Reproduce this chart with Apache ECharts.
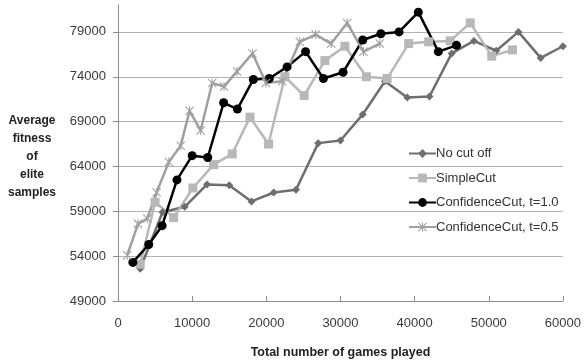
<!DOCTYPE html>
<html>
<head>
<meta charset="utf-8">
<script src="https://cdn.jsdelivr.net/npm/echarts@6/dist/echarts.min.js"></script>
<style>html,body{margin:0;padding:0;background:#fff}#c{width:584px;height:364px}</style>
</head>
<body>
<div id="c"></div>
<script>
// ---- data ----
var seriesNames = ["No cut off", "SimpleCut", "ConfidenceCut, t=1.0", "ConfidenceCut, t=0.5"];

var noCutX = [3000, 6000, 9000, 12000, 15000, 18000, 21000, 24000, 27000, 30000, 33000, 36000, 39000, 42000, 45000, 48000, 51000, 54000, 57000, 60000];
var noCutY = [52600, 58900, 59500, 62000, 61900, 60100, 61100, 61400, 66600, 66900, 69800, 73500, 71700, 71800, 76600, 78000, 76900, 79000, 76100, 77400];

var simpleX = [3000, 5000, 7500, 10100, 12900, 15400, 17800, 20300, 22500, 25100, 27900, 30600, 33500, 36300, 39200, 41900, 44800, 47500, 50400, 53200];
var simpleY = [53100, 60000, 58300, 61600, 64200, 65400, 69500, 66500, 74000, 71900, 75800, 77400, 74000, 73800, 77700, 77900, 78000, 80000, 76300, 77000];

var conf10X = [2000, 4150, 5950, 7950, 10000, 12100, 14250, 16100, 18250, 20400, 22800, 25300, 27700, 30350, 33000, 35450, 37900, 40500, 43200, 45650];
var conf10Y = [53300, 55300, 57400, 62500, 65200, 65000, 71100, 70400, 73700, 73800, 75100, 76800, 73800, 74500, 78100, 78800, 79000, 81200, 76800, 77500];

var conf05X = [1250, 2700, 3950, 5200, 6850, 8450, 9650, 11150, 12700, 14300, 16050, 18150, 19950, 22150, 24500, 26650, 28750, 30900, 33100, 35300];
var conf05Y = [54100, 57600, 58200, 61100, 64500, 66300, 70200, 68000, 73300, 72900, 74600, 76600, 73300, 73500, 77900, 78700, 77700, 80000, 76800, 77700];

var xTicks = [0, 10000, 20000, 30000, 40000, 50000, 60000];
var yTicks = [49000, 54000, 59000, 64000, 69000, 74000, 79000];

function pairs(xs, ys) { return xs.map(function (x, i) { return [x, ys[i]]; }); }

var asterisk = 'path://M4.4 0L5.6 0L5.6 10L4.4 10Z M0 0.85L0.85 0L10 9.15L9.15 10Z M9.15 0L10 0.85L0.85 10L0 9.15Z';

var FONT = '"Liberation Sans", Arial, sans-serif';
var chart = echarts.init(document.getElementById('c'), null, { renderer: 'canvas' });

var option = {
  animation: false,
  backgroundColor: '#ffffff',
  textStyle: { fontFamily: FONT },
  grid: { left: 118, right: 19, top: 5, bottom: 61, containLabel: false },
  legend: {
    orient: 'vertical',
    left: 403,
    top: 142,
    itemWidth: 27,
    itemHeight: 11,
    itemGap: 11.5,
    textStyle: { fontFamily: FONT, fontSize: 13, color: '#333', lineHeight: 13, padding: [0, 0, 0, -5] },
    data: seriesNames
  },
  xAxis: {
    type: 'value',
    min: xTicks[0],
    max: xTicks[xTicks.length - 1],
    interval: 10000,
    name: 'Total number of games played',
    nameLocation: 'middle',
    nameGap: 45,
    nameTextStyle: { fontFamily: FONT, fontSize: 12.5, fontWeight: 'bold', color: '#222' },
    axisLine: { show: true, lineStyle: { color: '#8c8c8c', width: 1 } },
    axisTick: { show: true, inside: true, length: 5, lineStyle: { color: '#8c8c8c' } },
    axisLabel: { fontFamily: FONT, fontSize: 13, color: '#3a3a3a', margin: 16, formatter: function (v) { return String(v); } },
    splitLine: { show: false }
  },
  yAxis: {
    type: 'value',
    min: yTicks[0],
    max: 82000,
    interval: 5000,
    axisLine: { show: true, lineStyle: { color: '#8c8c8c', width: 1 } },
    axisTick: { show: true, inside: false, length: 5, lineStyle: { color: '#8c8c8c' } },
    axisLabel: {
      fontFamily: FONT, fontSize: 13, color: '#3a3a3a', margin: 12, showMaxLabel: false,
      formatter: function (v) { return yTicks.indexOf(v) >= 0 ? String(v) : ''; }
    },
    splitLine: { show: true, showMinLine: false, showMaxLine: false, lineStyle: { color: '#b3b3b3', width: 1 } }
  },
  graphic: [{
    type: 'text',
    left: 8, top: 112,
    style: {
      text: 'Average\nfitness\nof\nelite\nsamples',
      font: 'bold 12px ' + FONT,
      fill: '#222',
      textAlign: 'center',
      lineHeight: 18,
      x: 30
    }
  }],
  series: [
    {
      name: seriesNames[0], type: 'line', data: pairs(noCutX, noCutY),
      symbol: 'diamond', symbolSize: 8,
      itemStyle: { color: '#6e6e6e' },
      lineStyle: { color: '#6e6e6e', width: 2.5 }
    },
    {
      name: seriesNames[1], type: 'line', data: pairs(simpleX, simpleY),
      symbol: 'rect', symbolSize: 9,
      itemStyle: { color: '#b8b8b8' },
      lineStyle: { color: '#b8b8b8', width: 2.5 }
    },
    {
      name: seriesNames[2], type: 'line', data: pairs(conf10X, conf10Y),
      symbol: 'circle', symbolSize: 9,
      itemStyle: { color: '#000000' },
      lineStyle: { color: '#000000', width: 2.5 }
    },
    {
      name: seriesNames[3], type: 'line', data: pairs(conf05X, conf05Y),
      symbol: asterisk, symbolSize: 9,
      itemStyle: { color: '#a0a0a0' },
      lineStyle: { color: '#a0a0a0', width: 2.5 }
    }
  ]
};
chart.setOption(option);
</script>
</body>
</html>
